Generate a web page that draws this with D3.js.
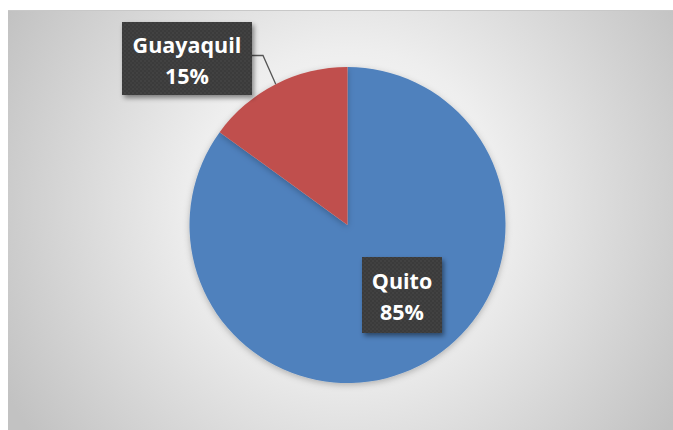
<!DOCTYPE html>
<html><head><meta charset="utf-8">
<script src="https://cdn.jsdelivr.net/npm/d3@7"></script>
<style>body{margin:0;background:#fff;}svg{display:block;}</style>
</head><body>
<script>
const categories = ["Quito", "Guayaquil"];
const values = [85, 15];
const colors = ["#4F81BD", "#C0504D"];

const W = 673, H = 430;
const svg = d3.select("body").append("svg").attr("width", W).attr("height", H);
const defs = svg.append("defs");

const cx = 347.5, cy = 225, R = 158;

const rg = defs.append("radialGradient").attr("id", "bg")
  .attr("gradientUnits", "userSpaceOnUse")
  .attr("cx", cx).attr("cy", cy - 20).attr("r", 390);
rg.append("stop").attr("offset", 0).attr("stop-color", "#ffffff");
rg.append("stop").attr("offset", 0.4).attr("stop-color", "#eeeeee");
rg.append("stop").attr("offset", 1).attr("stop-color", "#c2c2c2");

const pat = defs.append("pattern").attr("id", "dots").attr("patternUnits", "userSpaceOnUse")
  .attr("width", 4).attr("height", 4);
pat.append("rect").attr("width", 4).attr("height", 4).attr("fill", "#3b3b3b");
pat.append("circle").attr("cx", 1).attr("cy", 1).attr("r", 0.8).attr("fill", "#4d4d4d");
pat.append("circle").attr("cx", 3).attr("cy", 3).attr("r", 0.8).attr("fill", "#464646");

const sh = defs.append("filter").attr("id", "shadow").attr("x", "-20%").attr("y", "-20%").attr("width", "140%").attr("height", "150%");
sh.append("feDropShadow").attr("dx", 2).attr("dy", 3).attr("stdDeviation", 2.5).attr("flood-color", "#000").attr("flood-opacity", 0.45);

const psh = defs.append("filter").attr("id", "pshadow").attr("x", "-20%").attr("y", "-20%").attr("width", "140%").attr("height", "140%");
psh.append("feDropShadow").attr("dx", 0).attr("dy", 2).attr("stdDeviation", 3).attr("flood-color", "#000").attr("flood-opacity", 0.25);

// chart area
svg.append("rect").attr("x", 8).attr("y", 10).attr("width", W - 8).attr("height", H - 10).attr("fill", "url(#bg)");
svg.append("line").attr("x1", 8).attr("x2", W).attr("y1", 10.5).attr("y2", 10.5).attr("stroke", "#c8c8c8").attr("stroke-width", 1);

const pie = d3.pie().sort(null).value(d => d)(values);
const arc = d3.arc().innerRadius(0).outerRadius(R);

const g = svg.append("g").attr("transform", `translate(${cx},${cy})`);
g.selectAll("path").data(pie).join("path")
  .attr("d", arc).attr("fill", (d, i) => colors[i])
  .attr("filter", "url(#pshadow)");

const total = d3.sum(values);
// label layout: box center offset relative to pie center, box size
const labelOffsets = [[54.5, 70], [-160.5, -166.5]];
const boxSizes = [[80, 76], [130, 73]];

categories.forEach((c, i) => {
  const [ox, oy] = labelOffsets[i];
  const [bw, bh] = boxSizes[i];
  const bx = cx + ox, by = cy + oy;
  if (i === 1) {
    const a = (pie[i].startAngle + pie[i].endAngle) / 2;
    const px = cx + R * Math.sin(a), py = cy - R * Math.cos(a);
    svg.append("path")
      .attr("d", `M${bx + bw / 2},${by - 3} L${bx + bw / 2 + 11},${by - 3} L${px},${py}`)
      .attr("fill", "none").attr("stroke", "#555").attr("stroke-width", 1.3);
  }
  const lg = svg.append("g");
  lg.append("rect").attr("x", bx - bw / 2).attr("y", by - bh / 2).attr("width", bw).attr("height", bh)
    .attr("fill", "url(#dots)").attr("filter", "url(#shadow)");
  const t = lg.append("text").attr("text-anchor", "middle")
    .attr("font-family", "Open Sans, Noto Sans, sans-serif").attr("font-weight", "bold")
    .attr("font-size", 21.5).attr("fill", "#fff");
  t.append("tspan").attr("x", bx).attr("y", by - 6).text(c);
  t.append("tspan").attr("x", bx).attr("y", by + 25).text(Math.round(values[i] / total * 100) + "%");
});
</script>
</body></html>
